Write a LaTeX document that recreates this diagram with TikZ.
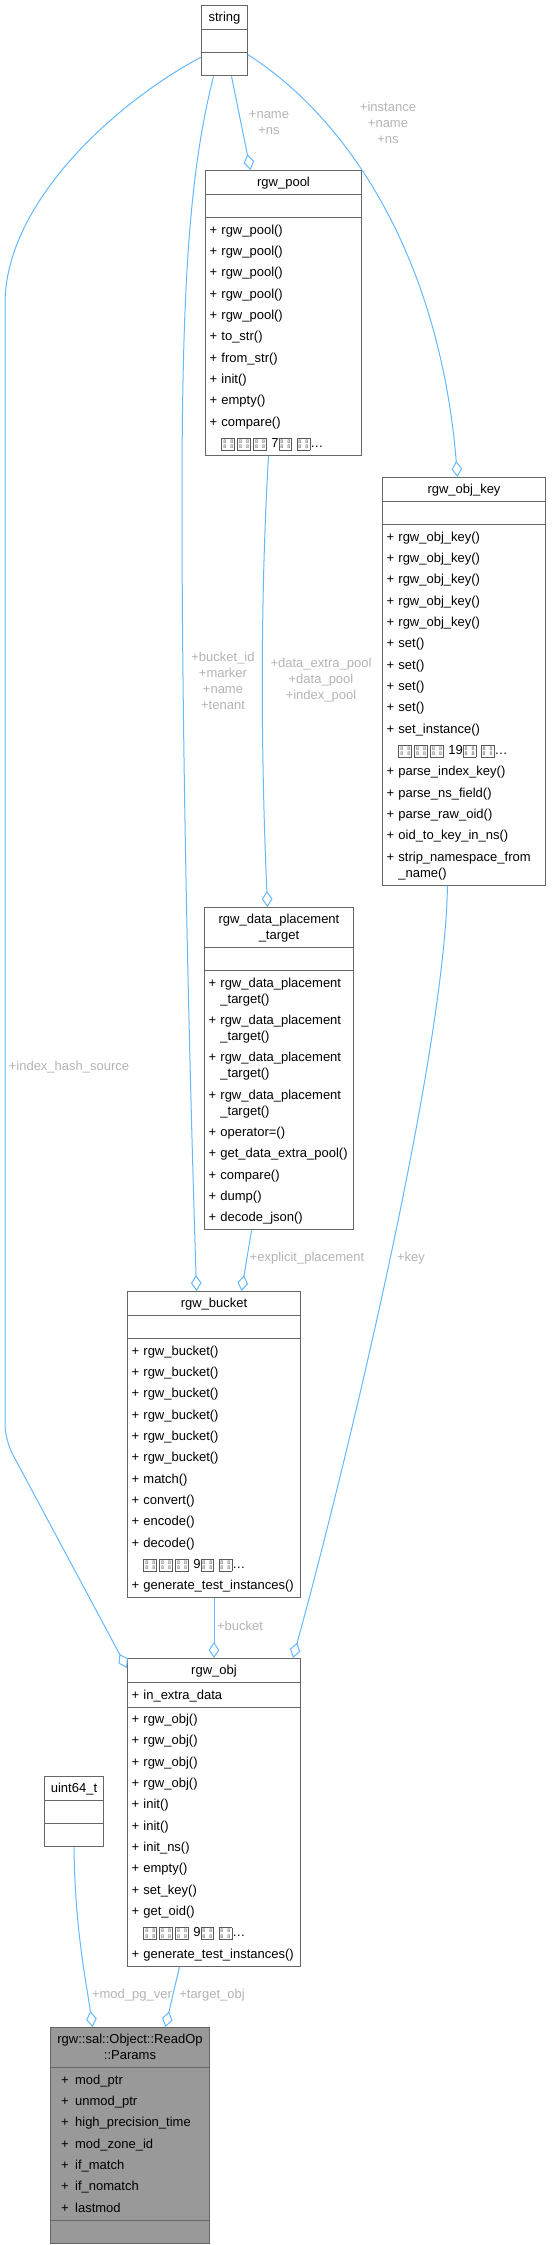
\documentclass[tikz,border=0pt]{standalone}
\usepackage{fontspec}
\setmainfont{Liberation Sans}
\usetikzlibrary{arrows.meta, shapes.multipart}

\definecolor{edgeblue}{HTML}{63B8FF}
\definecolor{boxgray}{HTML}{666666}
\definecolor{labelgray}{HTML}{B4B4B4}
\definecolor{paramsfill}{HTML}{999999}

\newcommand{\utitle}[1]{\strut\makebox[\hsize][c]{#1}}
\newcommand{\umem}[1]{\strut+~#1}
\newcommand{\uattr}[1]{\strut\hspace*{5pt}\makebox[10.5pt][l]{+}#1}
\newcommand{\tofu}{\raisebox{-0.8pt}{\color{black!65}\fboxsep=0.8pt\fboxrule=0.6pt\fbox{\vbox{\fontsize{4}{3.8}\selectfont\hbox to 7.5pt{8\hfil 8}\hbox to 7.5pt{8\hfil 8}}}}}
\newcommand{\umore}[1]{\strut\phantom{+~}\tofu\,\tofu\,\tofu\ #1\tofu\ \tofu\dots}

\begin{document}
\begin{tikzpicture}[
    x=0.75pt, y=-0.75pt,
    every node/.style={font=\fontsize{9.75}{16}\selectfont},
    cls/.style={
        rectangle split,
        rectangle split parts=3,
        draw=boxgray,
        line width=0.75pt,
        fill=white,
        inner xsep=3pt,
        inner ysep=0.75pt,
        anchor=north west,
        align=left,
        text width=#1
    },
    lbl/.style={
        text=labelgray,
        align=center,
        inner sep=0pt,
        font=\fontsize{9.75}{12}\selectfont
    },
    assoc/.style={
        draw=edgeblue,
        line width=0.75pt,
        -{Diamond[open, length=12pt, width=8pt]}
    }
]
\useasboundingbox (0,0) rectangle (551,2245);

\node[cls=28.5pt] (string) at (201,5)
{\utitle{string}
 \nodepart{two}\rule{0pt}{15pt}
 \nodepart{three}\rule{0pt}{15pt}};

\node[cls=111pt] (pool) at (205,170)
{\utitle{rgw\_pool}
 \nodepart{two}\rule{0pt}{15pt}
 \nodepart{three}
 \umem{rgw\_pool()}\\
 \umem{rgw\_pool()}\\
 \umem{rgw\_pool()}\\
 \umem{rgw\_pool()}\\
 \umem{rgw\_pool()}\\
 \umem{to\_str()}\\
 \umem{from\_str()}\\
 \umem{init()}\\
 \umem{empty()}\\
 \umem{compare()}\\
 \umore{7}};

\node[cls=116.25pt] (objkey) at (382,477)
{\utitle{rgw\_obj\_key}
 \nodepart{two}\rule{0pt}{15pt}
 \nodepart{three}
 \umem{rgw\_obj\_key()}\\
 \umem{rgw\_obj\_key()}\\
 \umem{rgw\_obj\_key()}\\
 \umem{rgw\_obj\_key()}\\
 \umem{rgw\_obj\_key()}\\
 \umem{set()}\\
 \umem{set()}\\
 \umem{set()}\\
 \umem{set()}\\
 \umem{set\_instance()}\\
 \umore{19}\\
 \umem{parse\_index\_key()}\\
 \umem{parse\_ns\_field()}\\
 \umem{parse\_raw\_oid()}\\
 \umem{oid\_to\_key\_in\_ns()}\\
 \umem{strip\_namespace\_from}\\[-4pt]
 \phantom{+~}\_name()\strut};

\node[cls=105.75pt] (dpt) at (204,907)
{\utitle{rgw\_data\_placement}\\[-4pt]\utitle{\_target}
 \nodepart{two}\rule{0pt}{15pt}
 \nodepart{three}
 \umem{rgw\_data\_placement}\\[-4pt]\phantom{+~}\_target()\strut\\
 \umem{rgw\_data\_placement}\\[-4pt]\phantom{+~}\_target()\strut\\
 \umem{rgw\_data\_placement}\\[-4pt]\phantom{+~}\_target()\strut\\
 \umem{rgw\_data\_placement}\\[-4pt]\phantom{+~}\_target()\strut\\
 \umem{operator=()}\\
 \umem{get\_data\_extra\_pool()}\\
 \umem{compare()}\\
 \umem{dump()}\\
 \umem{decode\_json()}};

\node[cls=123.75pt] (bucket) at (127,1291)
{\utitle{rgw\_bucket}
 \nodepart{two}\rule{0pt}{15pt}
 \nodepart{three}
 \umem{rgw\_bucket()}\\
 \umem{rgw\_bucket()}\\
 \umem{rgw\_bucket()}\\
 \umem{rgw\_bucket()}\\
 \umem{rgw\_bucket()}\\
 \umem{rgw\_bucket()}\\
 \umem{match()}\\
 \umem{convert()}\\
 \umem{encode()}\\
 \umem{decode()}\\
 \umore{9}\\
 \umem{generate\_test\_instances()}};

\node[cls=123.75pt] (obj) at (127,1658)
{\utitle{rgw\_obj}
 \nodepart{two}\umem{in\_extra\_data}
 \nodepart{three}
 \umem{rgw\_obj()}\\
 \umem{rgw\_obj()}\\
 \umem{rgw\_obj()}\\
 \umem{rgw\_obj()}\\
 \umem{init()}\\
 \umem{init()}\\
 \umem{init\_ns()}\\
 \umem{empty()}\\
 \umem{set\_key()}\\
 \umem{get\_oid()}\\
 \umore{9}\\
 \umem{generate\_test\_instances()}};

\node[cls=38.25pt] (uint) at (44,1776)
{\utitle{uint64\_t}
 \nodepart{two}\rule{0pt}{15pt}
 \nodepart{three}\rule{0pt}{15pt}};

\node[cls=113.25pt, fill=paramsfill] (params) at (50,2027)
{\utitle{rgw::sal::Object::ReadOp}\\[-4pt]\utitle{::Params}
 \nodepart{two}
 \uattr{mod\_ptr}\\
 \uattr{unmod\_ptr}\\
 \uattr{high\_precision\_time}\\
 \uattr{mod\_zone\_id}\\
 \uattr{if\_match}\\
 \uattr{if\_nomatch}\\
 \uattr{lastmod}
 \nodepart{three}\rule{0pt}{15pt}};

\draw[assoc] ([xshift=5.25pt]string.south) -- ([xshift=-24.75pt]pool.north);
\draw[assoc] ([yshift=-10.5pt]string.east) .. controls (350,120) and (440,260) .. ([xshift=-4.9pt]objkey.north);
\draw[assoc] ([xshift=-8.25pt]string.south) .. controls (190,170) and (182,280) .. (182,500)
    .. controls (182,800) and (192,1150) .. ([xshift=-13.1pt]bucket.north);
\draw[assoc, rounded corners=12pt] ([yshift=-12.4pt]string.west) .. controls (120,100) and (5,200) .. (5,320)
    -- (5,1440) -- ([yshift=-7.5pt]obj.north west);
\draw[assoc] ([xshift=-11.25pt]pool.south) .. controls (259,620) and (262,780) .. ([xshift=-8.6pt]dpt.north);
\draw[assoc] ([xshift=-20.6pt]dpt.south) -- ([xshift=20.6pt]bucket.north);
\draw[assoc] ([xshift=-12.4pt]objkey.south) .. controls (445,1050) and (350,1450) .. ([xshift=-6pt]obj.north east);
\draw[assoc] (bucket.south) -- (obj.north);
\draw[assoc] (uint.south) .. controls (75,1930) and (86,1980) .. ([xshift=-28.1pt]params.north);
\draw[assoc] ([xshift=-25.9pt]obj.south) -- ([xshift=26.6pt]params.north);

\node[lbl] (lname) at (269,123) {+name\\+ns};
\node[lbl] (linst) at (388,123) {+instance\\+name\\+ns};
\node[lbl] (lbid) at (223,681) {+bucket\_id\\+marker\\+name\\+tenant};
\node[lbl] (lpool) at (321,680) {+data\_extra\_pool\\+data\_pool\\+index\_pool};
\node[lbl] (lhash) at (69,1067) {+index\_hash\_source};
\node[lbl] (lexpl) at (307,1258) {+explicit\_placement};
\node[lbl] (lkey) at (411,1258) {+key};
\node[lbl] (lbucket) at (240,1626) {+bucket};
\node[lbl] (lver) at (132,1995) {+mod\_pg\_ver};
\node[lbl] (ltarget) at (212,1995) {+target\_obj};

\end{tikzpicture}
\end{document}
